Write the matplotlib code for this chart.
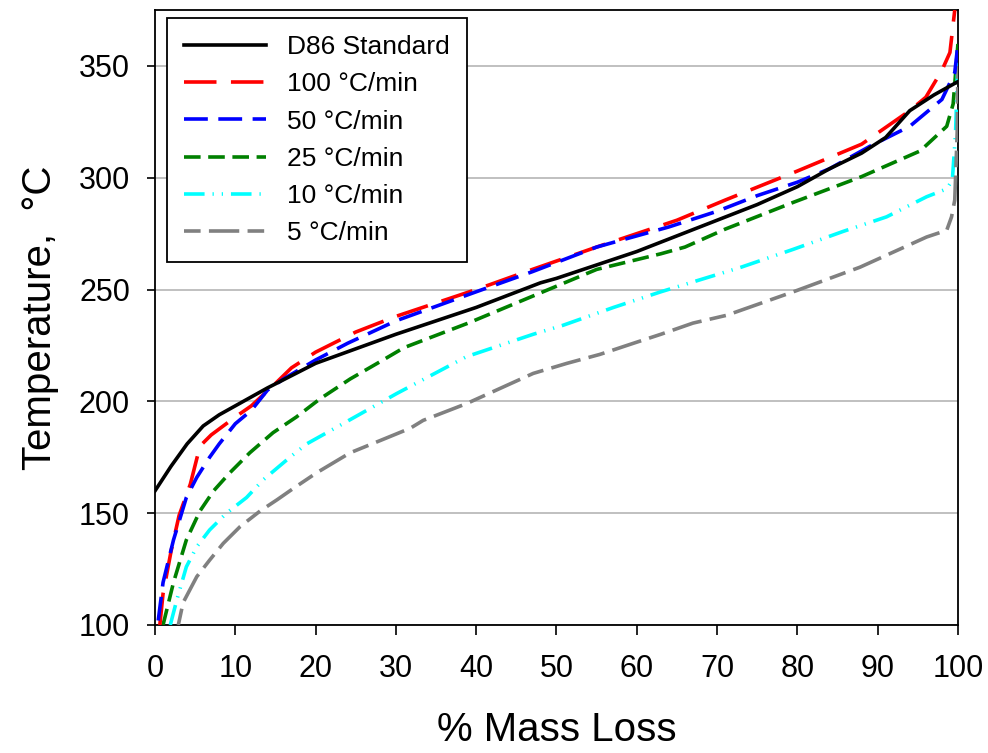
import matplotlib
matplotlib.use('Agg')
import matplotlib.pyplot as plt

plt.rcParams['font.family'] = ['Liberation Sans', 'DejaVu Sans']

# D86 Standard
x_d86 = [0, 2, 4, 6, 8, 10, 14, 20, 30, 40, 48, 50, 60, 65, 70, 75, 80, 84, 88, 91, 94, 97, 100]
t_d86 = [160, 171, 181, 189, 194, 198, 206, 217, 230, 242, 253, 255, 267, 274, 281, 288, 296, 304, 311, 318, 330, 337, 343]

# 100 C/min
x_100 = [0.6, 1, 2, 3, 4.4, 5.6, 7, 10, 12, 15, 17, 20, 25, 30, 40, 47, 55, 65, 71, 80, 88, 94, 96, 98, 99, 99.6]
t_100 = [100, 114, 133, 149, 163, 180, 185, 193, 198, 208, 215, 222, 231, 238, 250, 259, 269, 281, 290, 303, 315, 330, 336, 348, 356, 375]

# 50 C/min
x_50 = [0.4, 1, 2.3, 3.9, 5.2, 6.8, 8, 10, 12, 14, 16, 20, 24, 30, 40, 47, 55, 64, 70, 75, 80, 84, 89, 94, 98, 99.6, 100]
t_50 = [102, 119, 138, 157, 166, 175, 181, 190, 196, 205, 210, 218.5, 226, 236, 249, 258, 269, 278, 285, 292, 298, 304, 314, 323, 335, 347, 360]

# 25 C/min
x_25 = [1, 2.3, 3.9, 5.6, 7.3, 9.3, 11.8, 14.7, 17.6, 20.5, 24.3, 28.4, 31, 39, 47, 55, 63, 66, 71, 79.5, 88, 95.3, 98.6, 99.4, 100]
t_25 = [100, 119, 138, 151, 160, 168, 177, 186, 193, 201, 210, 218.5, 224, 235, 247, 259, 266, 269, 277, 289, 300.5, 312, 323, 333, 360]

# 10 C/min
x_10 = [1.9, 2.7, 3.9, 5.2, 6.8, 8.9, 11.4, 13.5, 16.8, 18.9, 23.4, 30.1, 38.8, 47.1, 50.8, 57.1, 63, 73, 79.5, 85.7, 91.1, 96.1, 98.6, 99.3, 99.7, 100]
t_10 = [100, 111, 126, 135, 142.5, 150, 157, 165, 175, 181, 190, 203.5, 220, 230, 234, 242, 249, 260, 268, 276, 282.5, 291.5, 295, 299, 320, 355]

# 5 C/min
x_5 = [2.9, 3.5, 5.2, 6.8, 8.5, 10.6, 13.1, 15.2, 17.2, 20.1, 24.3, 28.4, 31.8, 33.4, 38.8, 47.1, 51.3, 55.4, 59.6, 63, 67, 71.2, 79.5, 87.8, 96.1, 98.6, 99.2, 99.6, 99.9, 100]
t_5 = [100, 110, 121.6, 129, 136.5, 144, 151, 156, 161, 168, 177, 183, 188, 191.5, 199, 212.5, 217, 221, 226, 230, 235, 238.5, 249, 260, 273.5, 276.5, 282.5, 290, 320, 350]

fig, ax = plt.subplots(figsize=(9.88, 7.53), dpi=100)
fig.subplots_adjust(left=0.1569, right=0.9696, bottom=0.17, top=0.9867)

lw = 2.6
ax.plot(x_d86, t_d86, color='black', lw=lw, label='D86 Standard', zorder=5)
ax.plot(x_100, t_100, color='#ff0000', lw=lw, dashes=(9, 4), label='100 °C/min', zorder=4)
ax.plot(x_50, t_50, color='#0000ff', lw=lw, dashes=(6.6, 2.9), label='50 °C/min', zorder=4)
ax.plot(x_25, t_25, color='#008000', lw=lw, dashes=(4.6, 2.1), label='25 °C/min', zorder=3)
ax.plot(x_10, t_10, color='#00ffff', lw=lw, dashes=(5.7, 2.2, 0.35, 2.2, 0.35, 2.2), label='10 °C/min', zorder=3)
ax.plot(x_5, t_5, color='#808080', lw=lw, dashes=(4.6, 2.3, 8.4, 2.3), label='5 °C/min', zorder=3)

ax.set_xlim(0, 100)
ax.set_ylim(100, 375)
ax.set_xticks(range(0, 101, 10))
ax.set_yticks(range(100, 351, 50))
ax.yaxis.grid(True, color='#c0c0c0', lw=1.4)
ax.set_axisbelow(True)

for sp in ax.spines.values():
    sp.set_linewidth(1.3)
    sp.set_color('black')

ax.tick_params(axis='x', direction='out', length=7, width=1.2, pad=14, labelsize=22)
ax.tick_params(axis='y', direction='out', length=6, width=1.2, pad=12, labelsize=22)

ax.set_xlabel('% Mass Loss', fontsize=29, labelpad=19)
ax.set_ylabel('Temperature,  °C', fontsize=29, labelpad=14)

leg = ax.legend(loc='upper left', bbox_to_anchor=(0.015, 0.987), fontsize=19,
                frameon=True, fancybox=False, framealpha=1, edgecolor='black',
                handlelength=3.1, handletextpad=0.8, labelspacing=0.5,
                borderpad=0.65, borderaxespad=0)
leg.get_frame().set_linewidth(1.3)

fig.savefig('out.png', dpi=100)
